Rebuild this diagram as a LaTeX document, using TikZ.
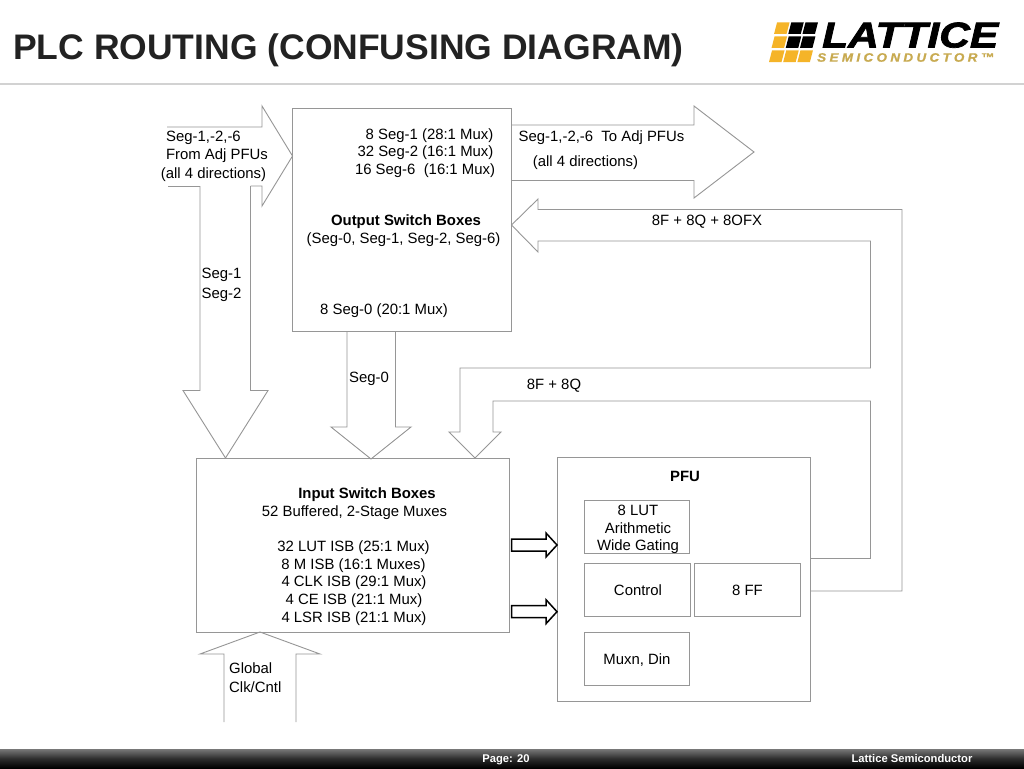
\documentclass[tikz,border=0pt]{standalone}
\usepackage{fontspec}
\setmainfont{Liberation Sans}
\definecolor{wire}{RGB}{150,150,150}
\definecolor{logoy}{RGB}{245,180,40}
\definecolor{logog}{RGB}{200,170,80}
\tikzset{
  wire/.style={draw=wire,line width=0.9pt,line join=miter},
  box/.style={wire,fill=white,anchor=north west,inner sep=0pt,outer sep=0pt},
  txt/.style={anchor=base,inner sep=0pt,font=\fontsize{14.9}{17}\selectfont},
  btxt/.style={txt,font=\fontsize{14.9}{17}\selectfont\bfseries},
  hollow/.style={draw=black,line width=1.5pt,fill=white,line join=miter},
  foot/.style={anchor=base,inner sep=0pt,text=white,font=\fontsize{11.2}{12}\selectfont\bfseries}
}
\newcommand{\bx}[6]{\node[box,minimum width=#4pt,minimum height=#5pt] (#1) at (#2,#3) {#6};}
\newcommand{\blockarrow}[1]{\draw[hollow] ([shift={(2,-6)}]#1) -- ([shift={(36.5,-6)}]#1) -- ([shift={(36.5,-12)}]#1) -- ([shift={(47.5,0)}]#1) -- ([shift={(36.5,12)}]#1) -- ([shift={(36.5,6)}]#1) -- ([shift={(2,6)}]#1) -- cycle;}
\begin{document}
\begin{tikzpicture}[x=1pt,y=-1pt]
\useasboundingbox (0,0) rectangle (1024,768);
\fill[white] (0,0) rectangle (1024,768);
% header
\node[anchor=base west,inner sep=0pt,font=\fontsize{35.5}{40}\selectfont\bfseries,text={rgb,255:red,34;green,34;blue,34}] (title) at (13,59.5) {PLC ROUTING (CONFUSING DIAGRAM)};
\draw[draw={rgb,255:red,210;green,210;blue,210},line width=1.2pt] (0,84) -- (1024,84);
% logo
\foreach \r/\yb in {0/34,1/48,2/62}{
  \foreach \c in {0,1,2}{
    \pgfmathsetmacro{\xa}{769+(62-\yb)*0.18+\c*14.2}
    \ifnum\r<2
      \ifnum\c=0 \def\cc{logoy}\else\def\cc{black}\fi
    \else \def\cc{logoy}\fi
    \fill[\cc] (\xa,\yb) -- ({\xa+12.5},\yb) -- ({\xa+15.5},\yb-11.5) -- ({\xa+3},\yb-11.5) -- cycle;
  }
}
\node[anchor=south west,inner sep=0pt] (logoa) at (822,48) {\resizebox{176pt}{25pt}{\fontspec[FakeBold=2]{Liberation Sans Bold Italic}LATTICE}};
\node[anchor=south west,inner sep=0pt,text=logog] (logob) at (817,62) {\resizebox{177pt}{8.5pt}{\fontspec[LetterSpace=25,FakeBold=1]{Liberation Sans Bold Italic}SEMICONDUCTOR™}};
% footer
\shade[top color={rgb,255:red,120;green,120;blue,120},bottom color=black,middle color={rgb,255:red,45;green,45;blue,45}] (0,749) rectangle (1024,768);
\node[foot] (page) at (506,762) {Page: 20};
\node[foot] (company) at (912,762) {Lattice Semiconductor};
% boxes
\bx{out}{292.5}{108}{219}{223}{}
\bx{inp}{196}{458.5}{313.5}{173.5}{}
\bx{pfu}{557.5}{457.5}{253}{243.5}{}
\bx{lut}{584}{500}{105.5}{53}{}
\bx{ctl}{584}{563.5}{106}{53}{}
\bx{ff}{694.5}{563.5}{106}{53}{}
\bx{mux}{584}{632.5}{105.5}{53}{}
% arrow tips and free ends
\coordinate (tipL) at (out.west |- 0,156);
\coordinate (tipOut) at (out.east |- 0,225);
\coordinate (tipA) at (225.5,458);
\coordinate (tipB) at (371,459);
\coordinate (tipC) at (475,458);
\coordinate (tipG) at (260,632);
\coordinate (o1) at (out.east |- 0,125);
\coordinate (o2) at (out.east |- 0,180.5);
\coordinate (p1) at (pfu.east |- 0,591);
\coordinate (p2) at (pfu.east |- 0,558.5);
% input bus from adjacent PFUs
\draw[wire] (167,127) -- (262,127) -- (262,106) -- (tipL) -- (262,206) -- (262,186) -- (250.5,186);
\draw[wire] (168,186) -- (200,186);
\draw[wire] (200,186) -- (200,390.5) -- (183,390.5) -- (tipA) -- (268,390.5) -- (250.5,390.5) -- (250.5,186);
% Seg-0 arrow
\draw[wire] (347,331) -- (347,427) -- (331,427) -- (tipB) -- (411,427) -- (395.5,427) -- (395.5,331);
% outgoing arrow
\draw[wire] (o1) -- (694,125) -- (694,106) -- (754,152) -- (694,198) -- (694,180.5) -- (o2);
% return arrow
\draw[wire] (p1) -- (902,591) -- (902,209.5) -- (538,209.5) -- (538,199) -- (tipOut) -- (538,252) -- (538,241) -- (870.5,241) -- (870.5,368) -- (460,368) -- (460,432) -- (449,432) -- (tipC) -- (501,432) -- (493,432) -- (493,401) -- (870.5,401) -- (870.5,558.5) -- (p2);
% global arrow
\draw[wire] (224,722) -- (224,654) -- (200,654) -- (tipG) -- (320,654) -- (296,654) -- (296,722);
% small black arrows
\coordinate (s1) at (inp.east |- 0,545);
\coordinate (s2) at (inp.east |- 0,611.7);
\blockarrow{s1}
\blockarrow{s2}
% labels
\node[txt] (a1) at (203.5,141) {Seg-1,-2,-6};
\node[txt] (a2) at (217,159) {From Adj PFUs};
\node[txt] (a3) at (213.5,178) {(all 4 directions)};
\node[txt] (a4) at (221.5,278) {Seg-1};
\node[txt] (a5) at (221.5,298) {Seg-2};
\node[txt] (b1) at (429.5,139) {8 Seg-1 (28:1 Mux)};
\node[txt] (b2) at (425.5,156.5) {32 Seg-2 (16:1 Mux)};
\node[txt] (b3) at (425,174.5) {16 Seg-6\ \ (16:1 Mux)};
\node[btxt] (b4) at (406,225) {Output Switch Boxes};
\node[txt] (b5) at (403.5,243) {(Seg-0, Seg-1, Seg-2, Seg-6)};
\node[txt] (b6) at (384,314.5) {8 Seg-0 (20:1 Mux)};
\node[txt] (c1) at (369,382) {Seg-0};
\node[txt] (d1) at (601.5,141.5) {Seg-1,-2,-6\ \ To Adj PFUs};
\node[txt] (d2) at (585.5,166) {(all 4 directions)};
\node[txt] (d3) at (707,225) {8F + 8Q + 8OFX};
\node[txt] (d4) at (554,389) {8F + 8Q};
\node[btxt] (e1) at (367,498) {Input Switch Boxes};
\node[txt] (e2) at (354.5,516) {52 Buffered, 2-Stage Muxes};
\node[txt] (e3) at (353.5,551.5) {32 LUT ISB (25:1 Mux)};
\node[txt] (e4) at (353.5,569) {8 M ISB (16:1 Muxes)};
\node[txt] (e5) at (354,586.5) {4 CLK ISB (29:1 Mux)};
\node[txt] (e6) at (354,604) {4 CE ISB (21:1 Mux)};
\node[txt] (e7) at (354,622) {4 LSR ISB (21:1 Mux)};
\node[btxt] (f1) at (685,481) {PFU};
\node[txt] (f2) at (638,515) {8 LUT};
\node[txt] (f3) at (638,533) {Arithmetic};
\node[txt] (f4) at (638,550.5) {Wide Gating};
\node[txt] (f5) at (638,595.5) {Control};
\node[txt] (f6) at (747.5,595.5) {8 FF};
\node[txt] (f7) at (637,664) {Muxn, Din};
\node[txt,anchor=base west] (g1) at (229,673) {Global};
\node[txt,anchor=base west] (g2) at (229,692) {Clk/Cntl};
\end{tikzpicture}
\end{document}
